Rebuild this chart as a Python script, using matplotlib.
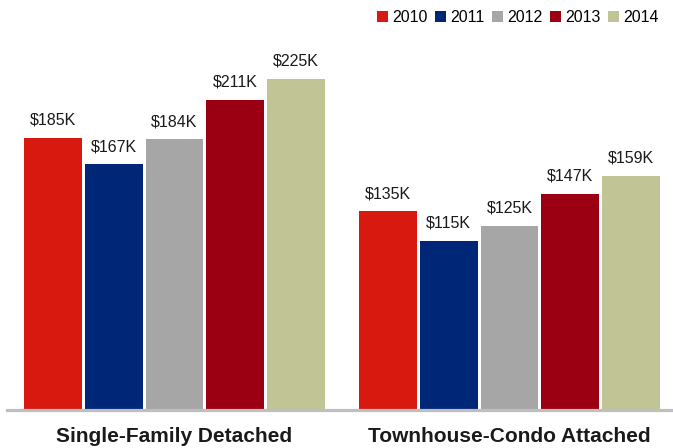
import numpy as np
import matplotlib.pyplot as plt
from matplotlib.patches import Patch

plt.rcParams['font.family'] = ['Liberation Sans', 'DejaVu Sans']

# data
categories = ['Single-Family Detached', 'Townhouse-Condo Attached']
years = ['2010', '2011', '2012', '2013', '2014']
values = {
    '2010': [185, 135],
    '2011': [167, 115],
    '2012': [184, 125],
    '2013': [211, 147],
    '2014': [225, 159],
}
colors = ['#D7190F', '#002677', '#A6A6A6', '#9B0012', '#C1C595']

fig = plt.figure(figsize=(6.73, 4.48), dpi=100)
# axes spans from the gray baseline (y=410px) to the top of the figure
ax = fig.add_axes([7 / 673, 38 / 448, 666 / 673, 410 / 448])

px = 335.0  # pixels per group unit
pitch = 60.7 / px
width = 57.5 / px
group_x = np.arange(len(categories))

for i, yr in enumerate(years):
    xs = group_x + (i - 2) * pitch
    bars = ax.bar(xs, values[yr], width, color=colors[i], linewidth=0)
    for b, v in zip(bars, values[yr]):
        ax.text(b.get_x() + b.get_width() / 2, v + 7, f'${v}K',
                ha='center', va='bottom', fontsize=11.5, color='#1a1a1a')

ax.set_xlim((7 - 174.5) / px, (673 - 174.5) / px)
ax.set_ylim(0, 410 / 1.471)

for s in ['top', 'right', 'left']:
    ax.spines[s].set_visible(False)
ax.spines['bottom'].set_color('#BFBFBF')
ax.spines['bottom'].set_linewidth(2.3)
ax.set_yticks([])
ax.set_xticks(group_x)
ax.set_xticklabels(categories, fontsize=15, fontweight='bold', color='#1a1a1a')
ax.tick_params(axis='x', length=0, pad=12)

handles = [Patch(facecolor=c, edgecolor='none', label=y) for c, y in zip(colors, years)]
fig.legend(handles=handles, loc='upper right', bbox_to_anchor=(0.994, 1.0), ncol=5,
           frameon=False, fontsize=11.5, handlelength=0.7, handleheight=0.7,
           handletextpad=0.25, columnspacing=0.47, borderaxespad=0.25)

fig.savefig('out.png', dpi=100)
